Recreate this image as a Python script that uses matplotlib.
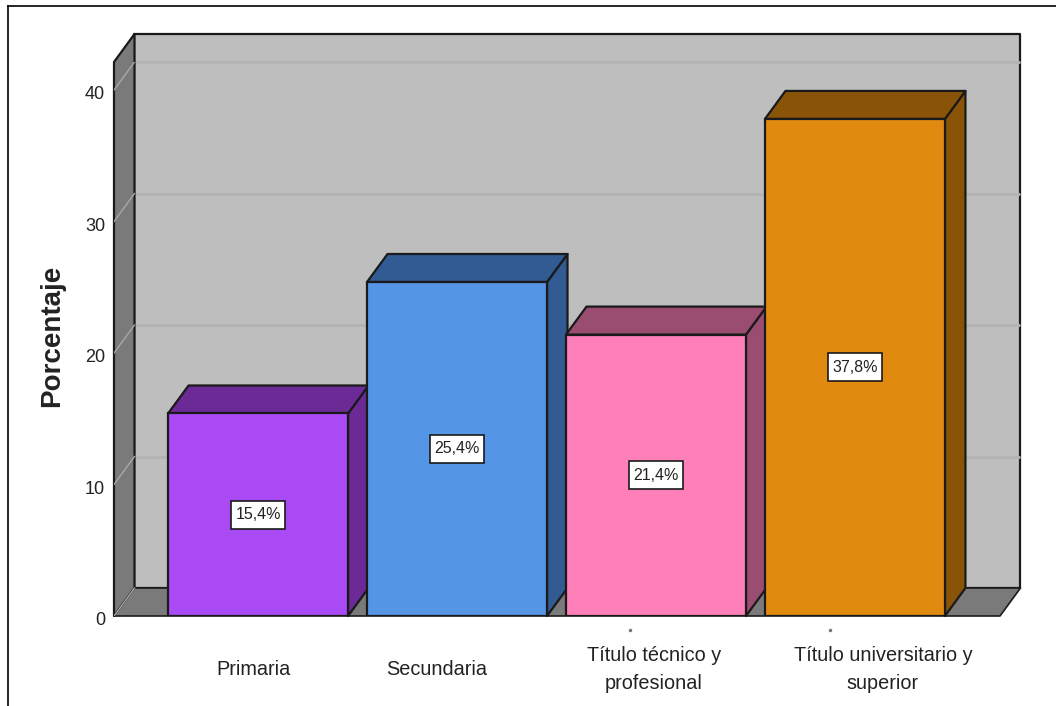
import matplotlib
matplotlib.use('Agg')
import matplotlib.pyplot as plt
from matplotlib.patches import Polygon, Rectangle
from matplotlib.transforms import ScaledTranslation

plt.rcParams['font.family'] = ['Liberation Sans', 'DejaVu Sans']

# niveles educativos y porcentajes
categorias = ['Primaria', 'Secundaria', 'Título técnico y\nprofesional',
              'Título universitario y\nsuperior']
porcentajes = [15.4, 25.4, 21.4, 37.8]
etiquetas = ['15,4%', '25,4%', '21,4%', '37,8%']
ticks_y = [0, 10, 20, 30, 40]

colores = ['#a94af5', '#5495e6', '#ff80b8', '#e08a0f']
colores_osc = ['#6b2a96', '#325a93', '#9a4d70', '#8a5408']
desplaz_etiqueta = [-5, -20, -2, 28]  # px respecto al centro de la barra

W, H = 1056, 706
fig = plt.figure(figsize=(W / 100, H / 100), dpi=100)
# eje: x de 114 a 1000 px, y de 616 a 62 px
ax = fig.add_axes([114 / W, 1 - 616 / H, 886 / W, 554 / H])
ax.set_xlim(-0.724, 3.729)
ax.set_ylim(0, 42.13)
for s in ax.spines.values():
    s.set_visible(False)
ax.patch.set_visible(False)

# profundidad del efecto 3D en unidades de datos
dx = 20.5 / 199
dy = 28 / 13.15
x0, x1 = ax.get_xlim()
y1 = ax.get_ylim()[1]
borde = '#1a1a1a'


def poli(puntos, color, z, lw=1.6, ec=borde):
    ax.add_patch(Polygon(puntos, closed=True, facecolor=color, edgecolor=ec,
                         linewidth=lw, zorder=z, clip_on=False,
                         joinstyle='round'))


# pared del fondo, pared lateral y suelo
poli([(x0 + dx, dy), (x1 + dx, dy), (x1 + dx, y1 + dy), (x0 + dx, y1 + dy)],
     '#bebebe', 1)
poli([(x0, 0), (x0 + dx, dy), (x0 + dx, y1 + dy), (x0, y1)], '#7a7a7a', 2)
poli([(x0, 0), (x1, 0), (x1 + dx, dy), (x0 + dx, dy)], '#7a7a7a', 2, lw=1.2)

for t in ticks_y:
    if t > 0:
        ax.plot([x0 + dx, x1 + dx - 0.005], [t + dy, t + dy], color='#b3b3b3', lw=2,
                zorder=1.5, clip_on=False, solid_capstyle='butt')
    ax.plot([x0, x0 + dx], [t, t + dy], color='#a8a8a8', lw=1, zorder=2.5)

# barras con cara frontal, superior y lateral
ancho = 180 / 199
caja_w, caja_h = 54 / 199, 28 / 13.15  # recuadro de la etiqueta
for i, v in enumerate(porcentajes):
    a, b = i - ancho / 2, i + ancho / 2
    z = 3 + i
    poli([(b, 0), (b + dx, dy), (b + dx, v + dy), (b, v)], colores_osc[i], z)
    poli([(a, v), (b, v), (b + dx, v + dy), (a + dx, v + dy)], colores_osc[i], z)
    ax.bar(i, v, width=ancho, color=colores[i], edgecolor=borde, linewidth=1.6,
           zorder=z + 0.1)
    ax.add_patch(Rectangle((i - caja_w / 2, v / 2 - caja_h / 2), caja_w, caja_h,
                           facecolor='white', edgecolor=borde, linewidth=1.2,
                           zorder=9))
    ax.text(i, v / 2, etiquetas[i], ha='center', va='center', fontsize=11.5,
            color='#222222', zorder=10)

ax.set_yticks(ticks_y)
ax.set_yticklabels([str(t) for t in ticks_y], fontsize=13, color='#222222')
ax.tick_params(axis='y', length=0, pad=6.5)
# numeros del eje un poco por debajo de su linea
bajar = ScaledTranslation(0, -2.5 / 100, fig.dpi_scale_trans)
for lab in ax.get_yticklabels():
    lab.set_transform(lab.get_transform() + bajar)
ax.set_xticks([])

# etiquetas de categoria desplazadas en pixeles
for i, c in enumerate(categorias):
    ax.annotate(c, xy=(i, 0), xytext=(desplaz_etiqueta[i] * 0.72, -32 if '\n' not in c else -21.5),
                textcoords='offset points', ha='center', va='top', fontsize=14.3,
                color='#222222', linespacing=1.62, annotation_clip=False)

ax.set_ylabel('Porcentaje', fontsize=20, fontweight='bold', color='#222222')
ax.yaxis.set_label_coords((65 - 114) / 886, 0.505)

# marco exterior: lineas superior e izquierda
fig.add_artist(plt.Line2D([8 / W, 1], [1 - 6 / H, 1 - 6 / H], color='black', lw=1.2))
fig.add_artist(plt.Line2D([8 / W, 8 / W], [0, 1 - 6 / H], color='black', lw=1.2))
# marcas diminutas bajo las barras
for px in (630, 830):
    fig.add_artist(plt.Line2D([px / W], [1 - 630 / H], marker='o', ms=1.5,
                              color='#777777', lw=0))

fig.savefig('out.png', dpi=100)
